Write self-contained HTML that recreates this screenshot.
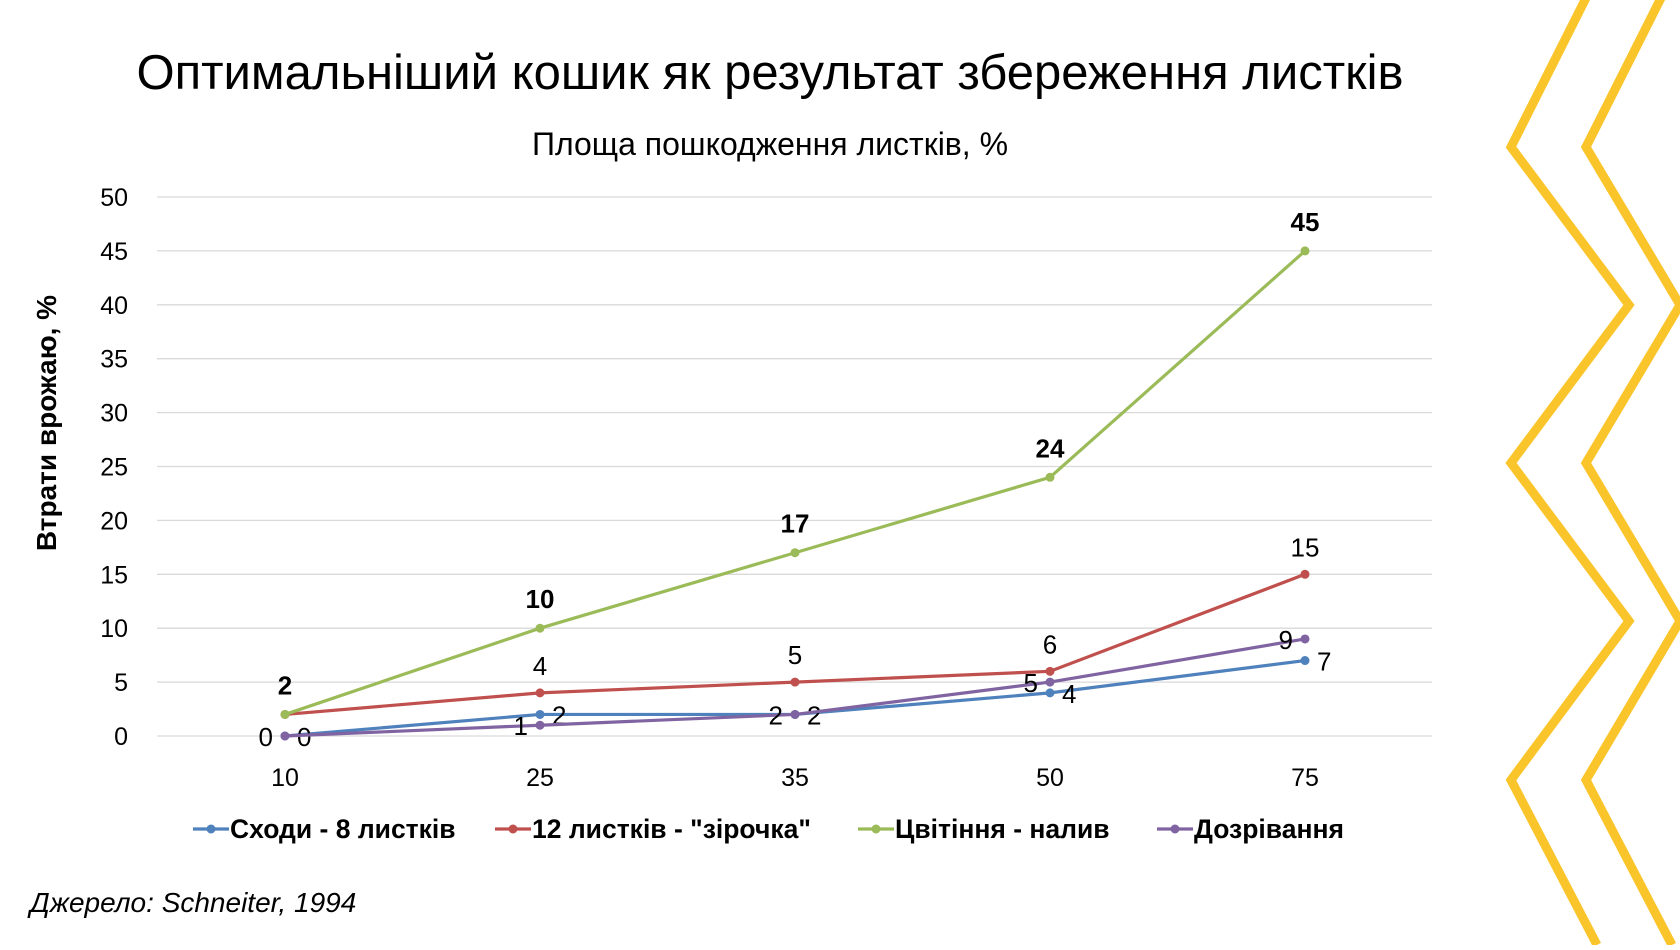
<!DOCTYPE html>
<html><head><meta charset="utf-8"><style>
body{margin:0;background:#fff;width:1680px;height:945px;overflow:hidden;font-family:"Liberation Sans",sans-serif}
</style></head><body>
<svg width="1680" height="945" id="svg">
<g fill="none" stroke="#F9C52B" stroke-width="9">
<polyline points="1590,-10 1511,147 1629,305 1511,463 1629,621 1511,780 1597,945"/>
<polyline points="1665,-10 1586,147 1680,305 1586,463 1680,621 1586,780 1672,945"/>
</g>
<text x="770" y="89" font-size="49" text-anchor="middle" fill="#000">Оптимальніший кошик як результат збереження листків</text>
<text x="770" y="155" font-size="32" text-anchor="middle" fill="#000">Площа пошкодження листків, %</text>
<text transform="translate(56,423) rotate(-90)" font-size="28" font-weight="bold" text-anchor="middle">Втрати врожаю, %</text>
<text x="30" y="912" font-size="28" font-style="italic">Джерело: Schneiter, 1994</text>
<g id="grid"></g><g id="series"></g><g id="legend"></g>
</svg>
<script>
const categories=['10','25','35','50','75'];
const yTicks=[0,5,10,15,20,25,30,35,40,45,50];
const seriesNames=['Сходи - 8 листків','12 листків - "зірочка"','Цвітіння - налив','Дозрівання'];
const seedlings=[0,2,2,4,7];
const leaves12=[2,4,5,6,15];
const flowering=[2,10,17,24,45];
const ripening=[0,1,2,5,9];
const NS='http://www.w3.org/2000/svg';
const X0=157,X1=1432,Y0=736,Y50=197;
const x=i=>285+i*255;
const y=v=>Y0-(Y0-Y50)*v/50;
function mk(t,a,p){const e=document.createElementNS(NS,t);for(const k in a)e.setAttribute(k,a[k]);p.appendChild(e);return e;}
const grid=document.getElementById('grid');
yTicks.forEach(t=>{
 const l=mk('line',{x1:X0,x2:X1,y1:y(t),y2:y(t),stroke:'#d9d9d9','stroke-width':1.3},grid);
 
 
 const tx=mk('text',{x:128,y:y(t)+9,'font-size':25,'text-anchor':'end',fill:'#000'},grid);
 tx.textContent=t;
 
 
});
categories.forEach((c,i)=>{
 const tx=mk('text',{x:x(i),y:786,'font-size':25,'text-anchor':'middle'},grid);
 tx.textContent=c;
 
 
});
const defs=[
 {d:seedlings,c:'#4F81BD',lab:(v,i)=>[x(i)+12,y(v)+10,'start','normal']},
 {d:leaves12,c:'#C0504D',skip:[0],lab:(v,i)=>[x(i),y(v)-18,'middle','normal']},
 {d:flowering,c:'#9BBB59',lab:(v,i)=>[x(i),y(v)-20,'middle','bold']},
 {d:ripening,c:'#8064A2',lab:(v,i)=>[x(i)-12,y(v)+10,'end','normal']}
];
const sg=document.getElementById('series');
defs.forEach((s,k)=>{
 const g=mk('g',{},sg);
 
 
 const pl=mk('polyline',{points:s.d.map((v,i)=>x(i)+','+y(v)).join(' '),fill:'none',stroke:s.c,'stroke-width':3.2},g);
 
 
 s.d.forEach((v,i)=>{
  const c=mk('circle',{cx:x(i),cy:y(v),r:4.5,fill:s.c},g);
  
  
  if(s.skip&&s.skip.includes(i))return;
  const L=s.lab(v,i);
  const t=mk('text',{x:L[0],y:L[1],'text-anchor':L[2],'font-weight':L[3],'font-size':26},g);
  t.textContent=v;
  
  
 });
});
const lg=document.getElementById('legend');
const lx=[193,495,858,1157];
seriesNames.forEach((n,k)=>{
 const g=mk('g',{},lg);
 
 
 mk('line',{x1:lx[k],x2:lx[k]+36,y1:829,y2:829,stroke:defs[k].c,'stroke-width':3.2},g);
 mk('circle',{cx:lx[k]+18,cy:829,r:4.5,fill:defs[k].c},g);
 const t=mk('text',{x:lx[k]+37,y:838,'font-size':26.5,'font-weight':'bold'},g);
 t.textContent=n;
});
</script>
</body></html>
